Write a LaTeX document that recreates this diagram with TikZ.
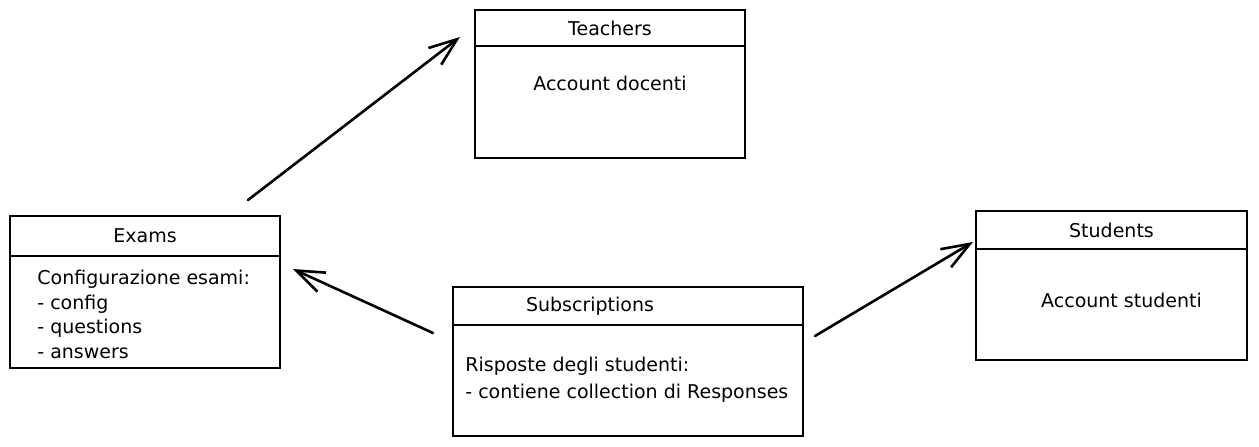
\documentclass[tikz,border=0pt]{standalone}
\usepackage{fontspec}
\setmainfont{DejaVu Sans}
\usepackage{tikz}
\usetikzlibrary{arrows.meta, calc, positioning}

\begin{document}
\begin{tikzpicture}[x=0.5pt,y=-0.5pt,>={Straight Barb[length=14pt,width=10.5pt]},
  head style/.style={
    draw=black,
    line width=0.8pt,
    rectangle,
    minimum width=#1,
    minimum height=19pt,
    inner sep=0pt,
    outer sep=0pt,
    font=\fontsize{9.5}{12.25}\selectfont,
  },
  body style/.style={
    draw=black,
    line width=0.8pt,
    rectangle,
    minimum width=#1,
    minimum height=56pt,
    inner sep=0pt,
    outer sep=0pt,
  },
  text style/.style={
    text=black,
    align=left,
    inner sep=0pt,
    font=\fontsize{9.5}{12.25}\selectfont,
  },
  arrow style/.style={
    ->,
    line width=1.3pt,
    line cap=round,
  }
]
\useasboundingbox (0,0) rectangle (1259,446);

\node[head style=135pt, minimum height=20pt] (Exams) at (145,236) {Exams};
\node[body style=135pt, below=0pt of Exams] (ExamsBody) {};
\node[text style, anchor=north west] (ExamsText) at ([xshift=13.5pt,yshift=-7pt]ExamsBody.north west)
 {Configurazione esami:\\- config\\- questions\\- answers};

\node[head style=135pt, minimum height=18pt] (Teachers) at (610,28) {Teachers};
\node[body style=135pt, below=0pt of Teachers] (TeachersBody) {};
\node[text style] (TeachersText) at ([yshift=-18.75pt]TeachersBody.north) {Account docenti};

\node[head style=175pt] (Subs) at (628,306) {};
\node[text style] (SubsTitle) at ([xshift=-19pt]Subs.center) {Subscriptions};
\node[body style=175pt, minimum height=55.5pt, below=0pt of Subs] (SubsBody) {};
\node[text style, anchor=north west, font=\fontsize{9.5}{13.5}\selectfont] (SubsText) at ([xshift=6pt,yshift=-16pt]SubsBody.north west)
 {Risposte degli studenti:\\- contiene collection di Responses};

\node[head style=135.5pt] (Students) at (1111.5,230) {Students};
\node[body style=135.5pt, minimum height=55.5pt, below=0pt of Students] (StudentsBody) {};
\node[text style] (StudentsText) at ([xshift=5pt,yshift=-25.5pt]StudentsBody.north) {Account studenti};

\draw[arrow style] ([xshift=-16pt,yshift=8pt]Exams.north east) -- ([xshift=-7.5pt,yshift=-4.5pt]Teachers.west);
\draw[arrow style] ([xshift=-10pt,yshift=-4pt]SubsBody.north west) -- ([xshift=6.5pt,yshift=-6.5pt]ExamsBody.north east);
\draw[arrow style] ([xshift=6pt,yshift=-5.5pt]SubsBody.north east) -- ([xshift=-1.5pt,yshift=3.5pt]StudentsBody.north west);

\end{tikzpicture}
\end{document}
